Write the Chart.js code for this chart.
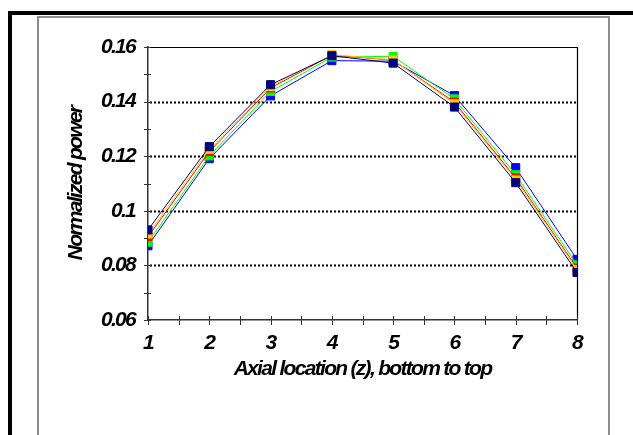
<!DOCTYPE html>
<html>
<head>
<meta charset="utf-8">
<title>Normalized power by axial location</title>
<script src="https://cdn.jsdelivr.net/npm/chart.js@4.4.1/dist/chart.umd.min.js"></script>
<style>
    body { margin: 0; background: #fff; }
    #wrap { position: relative; width: 633px; height: 435px; overflow: hidden; background: #fff; }
    .outer { position: absolute; left: 8px; top: 11px; width: 700px; height: 500px; border: 4px solid #000; }
    .inner { position: absolute; left: 37px; top: 16px; width: 569px; height: 500px; border: 2px solid #8c8c8c; }
    #myChart { position: absolute; left: 0; top: 0; }
</style>
</head>
<body>
<div id="wrap">
    <div class="outer"></div>
    <div class="inner"></div>
    <canvas id="myChart" width="633" height="435"></canvas>
</div>
<script>
// axial zones, bottom to top
const zones = [1, 2, 3, 4, 5, 6, 7, 8];
const yTickLabels = ['0.06', '0.08', '0.1', '0.12', '0.14', '0.16'];

// normalized power per zone, one array per case
const navyPower   = [0.0930, 0.1235, 0.1462, 0.1568, 0.1541, 0.1380, 0.1103, 0.0774];
const yellowPower = [0.0915, 0.1225, 0.1455, 0.1572, 0.1553, 0.1392, 0.1113, 0.0785];
const redPower    = [0.0905, 0.1217, 0.1450, 0.1570, 0.1552, 0.1398, 0.1120, 0.0790];
const greenPower  = [0.0885, 0.1201, 0.1437, 0.1563, 0.1566, 0.1410, 0.1132, 0.0802];
const bluePower   = [0.0872, 0.1191, 0.1421, 0.1550, 0.1548, 0.1422, 0.1158, 0.0822];

const labelFont = { family: 'Liberation Sans', size: 21, weight: 'bold', style: 'italic' };
const titleFont = { family: 'Liberation Sans', size: 21, weight: 'bold', style: 'italic' };

function makeSet(values, color) {
    return {
        data: zones.map((z, i) => ({ x: z, y: values[i] })),
        borderColor: color,
        backgroundColor: color,
        borderWidth: 1,
        pointStyle: 'rect',
        pointRadius: 5.7,
        pointBorderWidth: 1,
        pointBorderColor: color,
        pointBackgroundColor: color,
        fill: false,
        tension: 0
    };
}

// squeezed lettering like the old spreadsheet fonts
const squeeze = {
    id: 'squeeze',
    beforeLayout(chart) { chart.ctx.letterSpacing = '-1.7px'; },
    beforeDraw(chart) { chart.ctx.letterSpacing = '-1.7px'; }
};

// dotted gridlines, plot box and the cross ticks on both axes
const plotFrame = {
    id: 'plotFrame',
    beforeDatasetsDraw(chart) {
        const { ctx, chartArea: a, scales: { x, y } } = chart;
        ctx.save();
        ctx.letterSpacing = '0px';

        ctx.strokeStyle = '#000';
        ctx.lineWidth = 2;
        ctx.setLineDash([2, 2]);
        [0.08, 0.10, 0.12, 0.14].forEach(v => {
            const py = Math.round(y.getPixelForValue(v)) + 0.5;
            ctx.beginPath();
            ctx.moveTo(a.left + 2, py);
            ctx.lineTo(a.right, py);
            ctx.stroke();
        });
        ctx.setLineDash([]);

        // top and right edges of the plot box
        ctx.lineWidth = 1.2;
        ctx.beginPath();
        ctx.moveTo(a.left, a.top + 0.5);
        ctx.lineTo(a.right + 0.5, a.top + 0.5);
        ctx.lineTo(a.right + 0.5, a.bottom);
        ctx.stroke();

        ctx.strokeStyle = '#333';
        ctx.lineWidth = 1;
        for (let v = 0.06; v <= 0.1601; v += 0.01) {
            const py = Math.round(y.getPixelForValue(v)) + 0.5;
            ctx.beginPath();
            ctx.moveTo(a.left - 4, py);
            ctx.lineTo(a.left + 3, py);
            ctx.stroke();
        }
        for (let v = 1; v <= 8.001; v += 0.5) {
            const px = Math.round(x.getPixelForValue(v)) + 0.5;
            ctx.beginPath();
            ctx.moveTo(px, a.bottom - 4);
            ctx.lineTo(px, a.bottom + 5);
            ctx.stroke();
        }
        ctx.restore();
    }
};

const ctx = document.getElementById('myChart').getContext('2d');

const myChart = new Chart(ctx, {
    type: 'line',
    data: {
        datasets: [
            makeSet(navyPower, '#000080'),
            makeSet(yellowPower, '#ffcc00'),
            makeSet(redPower, '#ff0000'),
            makeSet(greenPower, '#00ff00'),
            makeSet(bluePower, '#0000ff')
        ]
    },
    options: {
        responsive: false,
        animation: false,
        layout: {
            padding: { left: 64, right: 56, top: 47, bottom: 53 }
        },
        plugins: {
            legend: { display: false },
            tooltip: { enabled: false }
        },
        scales: {
            x: {
                type: 'linear',
                min: 1,
                max: 8,
                grid: { display: false, drawTicks: false },
                border: { display: true, color: '#333', width: 1.5 },
                ticks: {
                    stepSize: 1,
                    padding: 11,
                    color: '#000',
                    font: labelFont,
                    callback: v => String(v)
                },
                title: {
                    display: true,
                    text: 'Axial location (z), bottom to top',
                    color: '#000',
                    font: titleFont,
                    padding: 0
                },
                afterFit(axis) { axis.height = 62; }
            },
            y: {
                min: 0.06,
                max: 0.16,
                grid: { display: false, drawTicks: false },
                border: { display: true, color: '#333', width: 1.5 },
                ticks: {
                    stepSize: 0.02,
                    padding: 13,
                    color: '#000',
                    font: labelFont,
                    callback: (value, index) => yTickLabels[index]
                },
                title: {
                    display: true,
                    text: 'Normalized power',
                    color: '#000',
                    font: titleFont,
                    padding: 0
                },
                afterFit(axis) { axis.width = 84; }
            }
        }
    },
    plugins: [squeeze, plotFrame]
});
</script>
</body>
</html>
